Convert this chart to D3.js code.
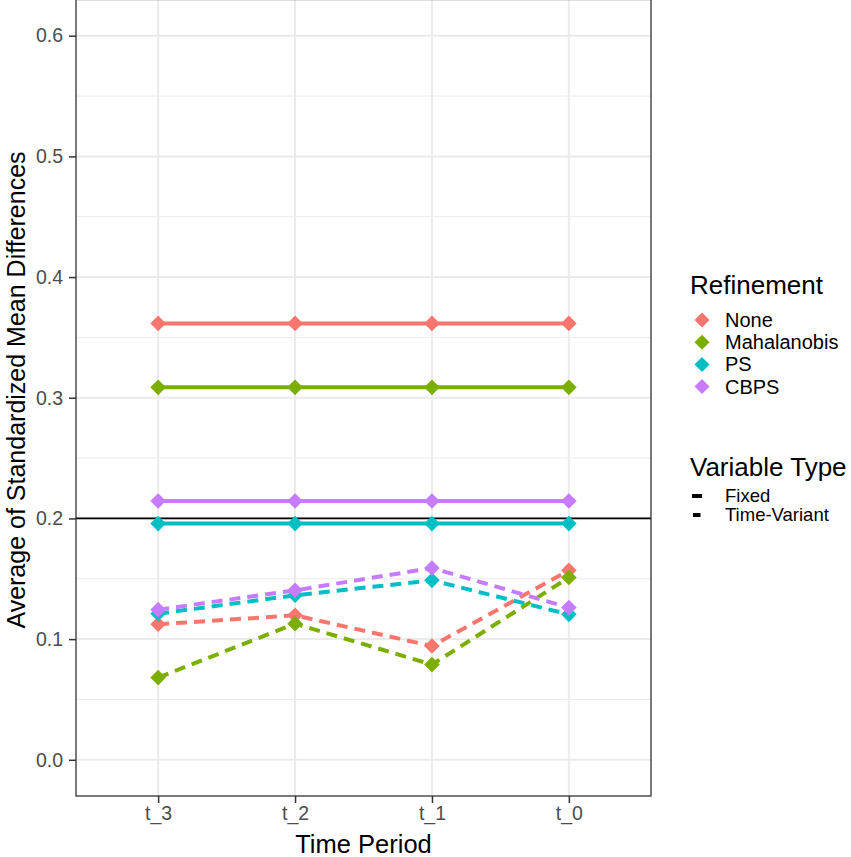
<!DOCTYPE html>
<html>
<head>
<meta charset="utf-8">
<script src="https://cdn.jsdelivr.net/npm/d3@7"></script>
<style>
	body { margin: 0; background: #fff; }
	text { font-family: "Liberation Sans", Arial, sans-serif; }
</style>
</head>
<body>
<div id="chart"></div>
<script>
const periods = ["t_3", "t_2", "t_1", "t_0"];
const refinements = ["None", "Mahalanobis", "PS", "CBPS"];
const colors = ["#F8766D", "#7CAE00", "#00BFC4", "#C77CFF"];
const varTypes = ["Fixed", "Time-Variant"];

// average SMD, one value per period
const fixedNone = [0.3616, 0.3616, 0.3616, 0.3616];
const fixedMaha = [0.3086, 0.3086, 0.3086, 0.3086];
const fixedPS = [0.1957, 0.1957, 0.1957, 0.1957];
const fixedCBPS = [0.2144, 0.2144, 0.2144, 0.2144];

const tvNone = [0.1123, 0.1197, 0.0943, 0.1570];
const tvMaha = [0.0681, 0.1128, 0.0789, 0.1510];
const tvPS = [0.1211, 0.1363, 0.1487, 0.1205];
const tvCBPS = [0.1244, 0.1404, 0.1589, 0.1261];

const yTicks = [0, 0.1, 0.2, 0.3, 0.4, 0.5, 0.6];
const yMinor = [0.05, 0.15, 0.25, 0.35, 0.45, 0.55];
const threshold = 0.2;

const width = 851, height = 857;
const panel = { left: 76, right: 651, top: -0.5, bottom: 796 };

const svg = d3.select("#chart").append("svg")
	.attr("width", width)
	.attr("height", height);

const x = d3.scalePoint()
	.domain(periods)
	.range([panel.left, panel.right])
	.padding(0.6);

const y = d3.scaleLinear()
	.domain([-0.03, 0.63])
	.range([panel.bottom, panel.top]);

const color = d3.scaleOrdinal().domain(refinements).range(colors);

// grid
const grid = svg.append("g");
grid.selectAll(".minor").data(yMinor).enter().append("line")
	.attr("x1", panel.left).attr("x2", panel.right)
	.attr("y1", (d) => y(d)).attr("y2", (d) => y(d))
	.attr("stroke", "#EBEBEB").attr("stroke-width", 1);
grid.selectAll(".major").data(yTicks).enter().append("line")
	.attr("x1", panel.left).attr("x2", panel.right)
	.attr("y1", (d) => y(d)).attr("y2", (d) => y(d))
	.attr("stroke", "#EBEBEB").attr("stroke-width", 2);
grid.selectAll(".vmajor").data(periods).enter().append("line")
	.attr("x1", (d) => x(d)).attr("x2", (d) => x(d))
	.attr("y1", panel.top).attr("y2", panel.bottom)
	.attr("stroke", "#EBEBEB").attr("stroke-width", 2);

// threshold line
svg.append("line")
	.attr("x1", panel.left).attr("x2", panel.right)
	.attr("y1", y(threshold)).attr("y2", y(threshold))
	.attr("stroke", "#000").attr("stroke-width", 1.8);

const series = [
	{ ref: "None", type: "Fixed", values: fixedNone },
	{ ref: "Mahalanobis", type: "Fixed", values: fixedMaha },
	{ ref: "PS", type: "Fixed", values: fixedPS },
	{ ref: "CBPS", type: "Fixed", values: fixedCBPS },
	{ ref: "None", type: "Time-Variant", values: tvNone },
	{ ref: "Mahalanobis", type: "Time-Variant", values: tvMaha },
	{ ref: "PS", type: "Time-Variant", values: tvPS },
	{ ref: "CBPS", type: "Time-Variant", values: tvCBPS }
];

const line = d3.line()
	.x((d, i) => x(periods[i]))
	.y((d) => y(d));

const diamond = (r) => `M0,${-r}L${r},0L0,${r}L${-r},0Z`;

svg.append("g").selectAll("path").data(series).enter().append("path")
	.attr("d", (d) => line(d.values))
	.attr("fill", "none")
	.attr("stroke", (d) => color(d.ref))
	.attr("stroke-width", 4)
	.attr("stroke-dasharray", (d) => d.type === "Fixed" ? null : "11,7");

series.forEach((s) => {
	svg.append("g").selectAll("path").data(s.values).enter().append("path")
		.attr("transform", (d, i) => `translate(${x(periods[i])},${y(d)})`)
		.attr("d", diamond(7.8))
		.attr("fill", color(s.ref));
});

// panel border
svg.append("rect")
	.attr("x", panel.left).attr("y", panel.top)
	.attr("width", panel.right - panel.left)
	.attr("height", panel.bottom - panel.top)
	.attr("fill", "none").attr("stroke", "#333").attr("stroke-width", 1.3);

// axes
const yAxis = svg.append("g")
	.attr("transform", `translate(${panel.left},0)`)
	.call(d3.axisLeft(y).tickValues(yTicks).tickFormat(d3.format(".1f")).tickSize(7).tickPadding(6));
const xAxis = svg.append("g")
	.attr("transform", `translate(0,${panel.bottom})`)
	.call(d3.axisBottom(x).tickSize(7).tickPadding(3));
[yAxis, xAxis].forEach((a) => {
	a.select(".domain").remove();
	a.attr("font-size", null);
	a.selectAll(".tick line").attr("stroke", "#333").attr("stroke-width", 1.5);
	a.selectAll(".tick text").attr("fill", "#4D4D4D").style("font-size", "19.5px")
		.style("font-family", "'Liberation Sans', Arial, sans-serif");
});

svg.append("text")
	.attr("x", (panel.left + panel.right) / 2).attr("y", 853)
	.attr("text-anchor", "middle").style("font-size", "25.5px")
	.text("Time Period");

svg.append("text")
	.attr("transform", `translate(25,390) rotate(-90)`)
	.attr("text-anchor", "middle").style("font-size", "25px")
	.text("Average of Standardized Mean Differences");

// legends
const lx = 690;
svg.append("text").attr("x", lx).attr("y", 294).style("font-size", "26px").text("Refinement");
const leg = svg.append("g").selectAll("g").data(refinements).enter().append("g")
	.attr("transform", (d, i) => `translate(${lx + 12},${320 + i * 22.2})`);
leg.append("path").attr("d", diamond(7.5)).attr("fill", (d) => color(d));
leg.append("text").attr("x", 23).attr("y", 7).style("font-size", "20px").text((d) => d);

svg.append("text").attr("x", lx).attr("y", 476).style("font-size", "26px").text("Variable Type");
const leg2 = svg.append("g").selectAll("g").data(varTypes).enter().append("g")
	.attr("transform", (d, i) => `translate(${lx + 12},${496 + i * 19})`);
leg2.append("line")
	.attr("x1", (d, i) => i === 0 ? -10 : -9).attr("x2", (d, i) => i === 0 ? 0 : -1.5)
	.attr("stroke", "#000").attr("stroke-width", 4);
leg2.append("text").attr("x", 23).attr("y", 6).style("font-size", "18.5px").text((d) => d);
</script>
</body>
</html>
